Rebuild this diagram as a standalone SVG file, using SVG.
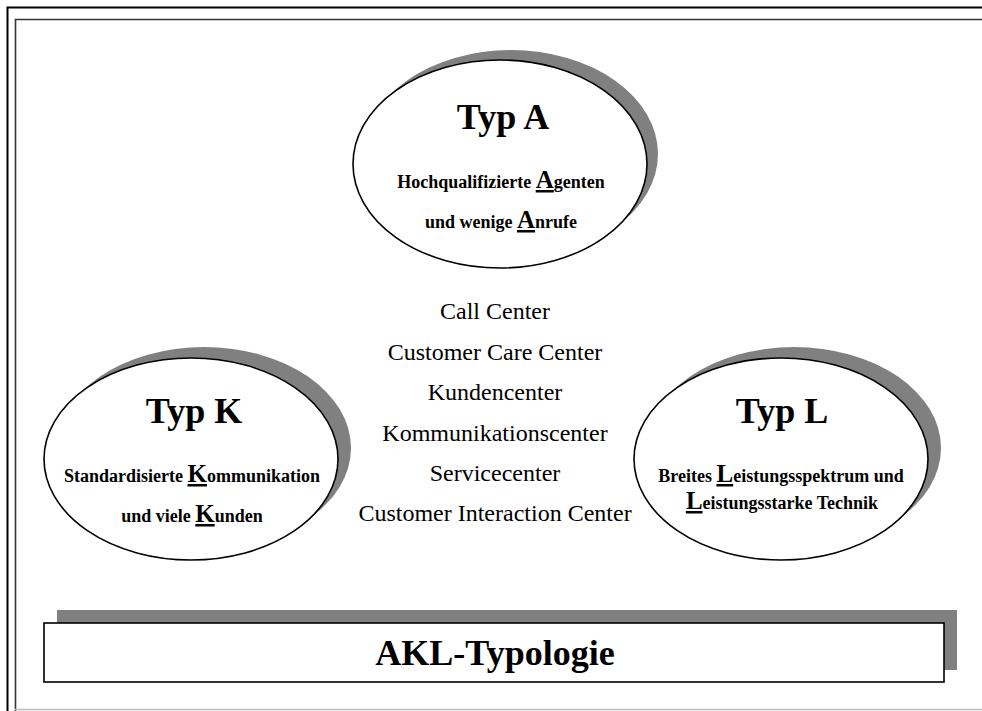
<svg xmlns="http://www.w3.org/2000/svg" width="982" height="711" viewBox="0 0 982 711">
  <style>
    .shadow { fill: #808080; stroke: none; }
    .bubble { fill: #ffffff; stroke: #000000; stroke-width: 1.6; }
    .title { font-family: "Liberation Serif", "Times New Roman", serif; font-weight: bold; font-size: 36px; text-anchor: middle; fill: #000; }
    .desc { font-family: "Liberation Serif", "Times New Roman", serif; font-weight: bold; font-size: 18px; text-anchor: middle; fill: #000; }
    .initial { font-size: 25px; text-decoration: underline; }
    .name { font-family: "Liberation Serif", "Times New Roman", serif; font-size: 24px; text-anchor: middle; fill: #000; }
  </style>

  <rect width="982" height="711" fill="#ffffff"/>

  <!-- page frame -->
  <g id="frame" fill="none">
    <path d="M7.5,711 V7.5 H982" stroke="#000" stroke-width="2"/>
    <path d="M15.5,711 V19.5 H982" stroke="#333" stroke-width="1.6"/>
    <path d="M15,709.5 H982" stroke="#bbb" stroke-width="1.5"/>
  </g>

  <!-- type A -->
  <g id="typ-a">
    <ellipse class="shadow" cx="511" cy="154" rx="147" ry="104"/>
    <ellipse class="bubble" cx="500" cy="164" rx="147" ry="104"/>
    <text class="title" x="503" y="129">Typ A</text>
    <text class="desc" x="501" y="188">Hochqualifizierte <tspan class="initial">A</tspan>genten</text>
    <text class="desc" x="501" y="228">und wenige <tspan class="initial">A</tspan>nrufe</text>
  </g>

  <!-- type K -->
  <g id="typ-k">
    <ellipse class="shadow" cx="204" cy="448" rx="147" ry="101"/>
    <ellipse class="bubble" cx="191" cy="459" rx="147" ry="101"/>
    <text class="title" x="194" y="423">Typ K</text>
    <text class="desc" x="192" y="482">Standardisierte <tspan class="initial">K</tspan>ommunikation</text>
    <text class="desc" x="192" y="522">und viele <tspan class="initial">K</tspan>unden</text>
  </g>

  <!-- type L -->
  <g id="typ-l">
    <ellipse class="shadow" cx="794" cy="448" rx="147" ry="101"/>
    <ellipse class="bubble" cx="781" cy="459" rx="147" ry="101"/>
    <text class="title" x="782" y="423">Typ L</text>
    <text class="desc" x="781" y="482">Breites <tspan class="initial">L</tspan>eistungsspektrum und</text>
    <text class="desc" x="782" y="509"><tspan class="initial">L</tspan>eistungsstarke Technik</text>
  </g>

  <!-- centre names -->
  <g id="names">
    <text class="name" x="495" y="319">Call Center</text>
    <text class="name" x="495" y="360">Customer Care Center</text>
    <text class="name" x="495" y="400">Kundencenter</text>
    <text class="name" x="495" y="441">Kommunikationscenter</text>
    <text class="name" x="495" y="481">Servicecenter</text>
    <text class="name" x="495" y="521">Customer Interaction Center</text>
  </g>

  <!-- typology banner -->
  <g id="akl-typologie">
    <rect class="shadow" x="57" y="610" width="900" height="60"/>
    <rect class="bubble" x="44" y="623" width="900" height="59"/>
    <text class="title" x="495" y="665">AKL-Typologie</text>
  </g>

  <g id="connectors"/>
</svg>
